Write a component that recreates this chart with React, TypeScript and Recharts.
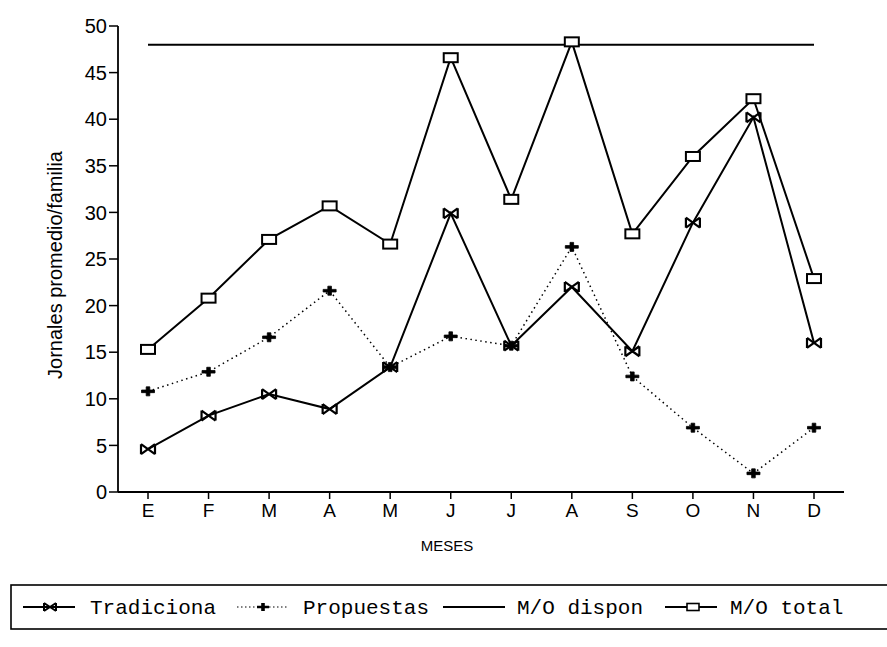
import React from 'react';
import { LineChart, Line, XAxis, YAxis } from 'recharts';

const months = ['E', 'F', 'M', 'A', 'M', 'J', 'J', 'A', 'S', 'O', 'N', 'D'];
const tradicional = [4.6, 8.2, 10.5, 8.9, 13.4, 29.9, 15.7, 22.0, 15.1, 28.9, 40.2, 16.0];
const propuestas = [10.8, 12.9, 16.6, 21.6, 13.4, 16.7, 15.7, 26.3, 12.4, 6.9, 2.0, 6.9];
const moDispon = [48, 48, 48, 48, 48, 48, 48, 48, 48, 48, 48, 48];
const moTotal = [15.3, 20.8, 27.1, 30.7, 26.6, 46.6, 31.4, 48.3, 27.7, 36.0, 42.2, 22.9];
const yTicks = [0, 5, 10, 15, 20, 25, 30, 35, 40, 45, 50];
const legendLabels = ['Tradiciona', 'Propuestas', 'M/O dispon', 'M/O total'];

const data = months.map((m, i) => ({
  id: i,
  mes: m,
  trad: tradicional[i],
  prop: propuestas[i],
  disp: moDispon[i],
  total: moTotal[i],
}));

const SANS = '"Liberation Sans", Arial, sans-serif';
const MONO = '"Liberation Mono", "DejaVu Sans Mono", monospace';

const bowtiePath = (cx: number, cy: number, w: number, h: number) =>
  `M${cx - w},${cy - h} L${cx + w},${cy + h} M${cx - w},${cy + h} L${cx + w},${cy - h} M${cx - w},${cy - h} L${cx - w},${cy + h} M${cx + w},${cy - h} L${cx + w},${cy + h}`;

const TradDot = (p: any) => {
  const { cx, cy, index } = p;
  if (cx == null || cy == null) return <g key={`t${index}`} />;
  return (
    <path key={`t${index}`} d={bowtiePath(cx, cy, 7, 5)} stroke="#000" strokeWidth={2.2} fill="none" />
  );
};

const plusPath = (cx: number, cy: number, w: number, h: number) =>
  `M${cx - w},${cy - 1.3} L${cx + w},${cy - 1.3} L${cx + w},${cy + 1.3} L${cx - w},${cy + 1.3} Z M${cx - 1.8},${cy - h} L${cx + 1.8},${cy - h} L${cx + 1.8},${cy + h} L${cx - 1.8},${cy + h} Z`;

const PropDot = (p: any) => {
  const { cx, cy, index } = p;
  if (cx == null || cy == null) return <g key={`p${index}`} />;
  return <path key={`p${index}`} d={plusPath(cx, cy, 6.5, 4.5)} fill="#000" stroke="#000" strokeWidth={0.8} />;
};

const TotalDot = (p: any) => {
  const { cx, cy, index } = p;
  if (cx == null || cy == null) return <g key={`s${index}`} />;
  return (
    <rect key={`s${index}`} x={cx - 7} y={cy - 4.5} width={14} height={9} fill="#fff" stroke="#000" strokeWidth={2} />
  );
};

const ChartLegend = () => {
  const cy = 47;
  const items = [
    { x1: 23, x2: 75, mx: 50, tx: 90, kind: 'trad' },
    { x1: 237, x2: 287, mx: 263, tx: 303, kind: 'prop' },
    { x1: 443, x2: 505, mx: 474, tx: 517, kind: 'disp' },
    { x1: 665, x2: 717, mx: 693, tx: 730, kind: 'total' },
  ];
  return (
    <svg width={887} height={87} style={{ position: 'absolute', left: 0, top: 560 }}>
      <rect x={11} y={25} width={900} height={44} fill="none" stroke="#000" strokeWidth={1.6} />
      {items.map((it, i) => (
        <g key={i}>
          <line
            x1={it.x1}
            x2={it.x2}
            y1={cy}
            y2={cy}
            stroke="#000"
            strokeWidth={it.kind === 'prop' ? 1.2 : 1.8}
            strokeDasharray={it.kind === 'prop' ? '1.5 2.5' : undefined}
          />
          {it.kind === 'trad' && <path d={bowtiePath(it.mx, cy, 6, 4)} stroke="#000" strokeWidth={2} fill="none" />}
          {it.kind === 'prop' && <path d={plusPath(it.mx, cy, 6, 4)} fill="#000" />}
          {it.kind === 'total' && (
            <rect x={it.mx - 6} y={cy - 3.5} width={12} height={7} fill="#fff" stroke="#000" strokeWidth={1.6} />
          )}
          <text x={it.tx} y={cy + 7} fontFamily={MONO} fontSize={21} fill="#000">
            {legendLabels[i]}
          </text>
        </g>
      ))}
    </svg>
  );
};

export default function App() {
  return (
    <div style={{ position: 'absolute', left: 0, top: 0, width: 887, height: 647, background: '#fff', overflow: 'hidden' }}>
      <LineChart
        width={887}
        height={647}
        data={data}
        margin={{ top: 26, right: 43, bottom: 125, left: 0 }}
      >
        <XAxis
          xAxisId="top"
          orientation="top"
          dataKey="id"
          type="category"
          height={0}
          padding={{ left: 30, right: 30 }}
          tick={false}
          tickLine={false}
          axisLine={{ stroke: '#000', strokeWidth: 1.8 }}
        />
        <YAxis
          yAxisId="right"
          orientation="right"
          domain={[0, 50]}
          width={0}
          tick={false}
          tickLine={false}
          axisLine={{ stroke: '#000', strokeWidth: 1.8 }}
        />
        <XAxis
          dataKey="id"
          type="category"
          height={30}
          padding={{ left: 30, right: 30 }}
          tickFormatter={(v: any) => months[Number(v)]}
          tick={{ fill: '#000', fontSize: 19, fontFamily: SANS }}
          tickSize={7}
          tickMargin={5}
          tickLine={{ stroke: '#000', strokeWidth: 1.5 }}
          axisLine={{ stroke: '#000', strokeWidth: 1.8 }}
          interval={0}
          label={{
            content: () => (
              <text x={447} y={551} textAnchor="middle" fontFamily={SANS} fontSize={15} fill="#000">
                MESES
              </text>
            ),
          }}
        />
        <YAxis
          domain={[0, 50]}
          ticks={yTicks}
          width={118}
          allowDataOverflow
          tick={{ fill: '#000', fontSize: 20, fontFamily: SANS }}
          tickSize={9}
          tickMargin={2}
          tickLine={{ stroke: '#000', strokeWidth: 1.5 }}
          axisLine={{ stroke: '#000', strokeWidth: 1.8 }}
          label={{
            content: () => (
              <text
                x={62}
                y={265}
                transform="rotate(-90 62 265)"
                textAnchor="middle"
                fontFamily={SANS}
                fontSize={20}
                fill="#000"
              >
                Jornales promedio/familia
              </text>
            ),
          }}
        />
        <Line
          dataKey="disp"
          stroke="#000"
          strokeWidth={2}
          dot={false}
          isAnimationActive={false}
        />
        <Line
          dataKey="total"
          stroke="#000"
          strokeWidth={2}
          dot={TotalDot}
          isAnimationActive={false}
        />
        <Line
          dataKey="prop"
          stroke="#000"
          strokeWidth={1.5}
          strokeDasharray="1.5 3.5"
          dot={PropDot}
          isAnimationActive={false}
        />
        <Line
          dataKey="trad"
          stroke="#000"
          strokeWidth={2}
          dot={TradDot}
          isAnimationActive={false}
        />
      </LineChart>
      <ChartLegend />
    </div>
  );
}
